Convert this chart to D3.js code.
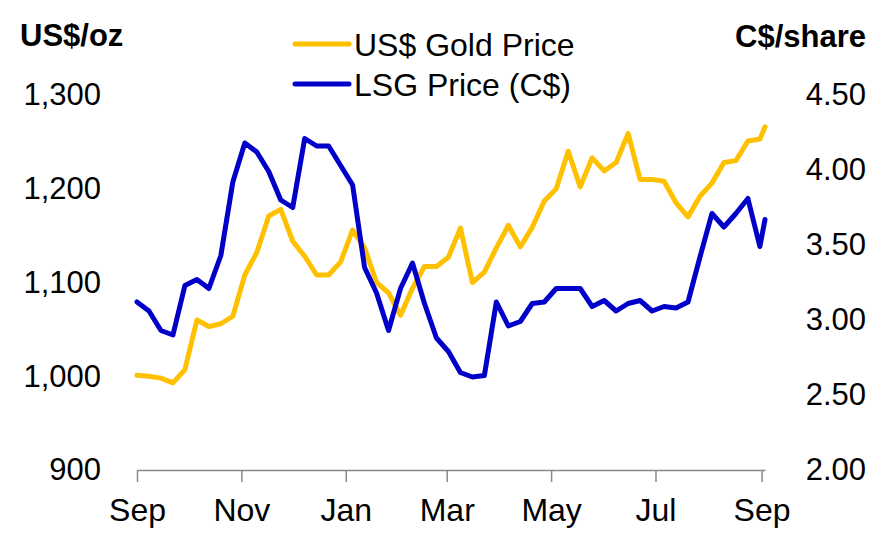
<!DOCTYPE html>
<html>
<head>
<meta charset="utf-8">
<script src="https://cdn.jsdelivr.net/npm/d3@7"></script>
<style>
  body { margin: 0; background: #fff; }
  svg text { font-family: "Liberation Sans", Arial, sans-serif; fill: #000; }
</style>
</head>
<body>
<svg id="chart" width="871" height="539"></svg>
<script>

// weekly closes, Sep 2009 - Sep 2010
var dates = ["2009-09-01","2009-09-08","2009-09-15","2009-09-22","2009-09-29",
  "2009-10-06","2009-10-13","2009-10-20","2009-10-27","2009-11-03","2009-11-10",
  "2009-11-17","2009-11-24","2009-12-01","2009-12-08","2009-12-15","2009-12-22",
  "2009-12-29","2010-01-05","2010-01-12","2010-01-19","2010-01-26","2010-02-02",
  "2010-02-09","2010-02-16","2010-02-23","2010-03-02","2010-03-09","2010-03-16",
  "2010-03-23","2010-03-30","2010-04-06","2010-04-13","2010-04-20","2010-04-27",
  "2010-05-04","2010-05-11","2010-05-18","2010-05-25","2010-06-01","2010-06-08",
  "2010-06-15","2010-06-22","2010-06-29","2010-07-06","2010-07-13","2010-07-20",
  "2010-07-27","2010-08-03","2010-08-10","2010-08-17","2010-08-24","2010-08-31",
  "2010-09-03"];

var goldPrice = [1001, 1000, 998, 993, 1007, 1060, 1053, 1056, 1064, 1108,
  1132, 1171, 1178, 1144, 1128, 1108, 1108, 1122, 1156, 1137,
  1100, 1089, 1065, 1094, 1117, 1117, 1127, 1158, 1100, 1111,
  1137, 1161, 1138, 1159, 1187, 1200, 1240, 1202, 1233, 1219,
  1228, 1259, 1210, 1210, 1208, 1185, 1170, 1192, 1206, 1228,
  1230, 1251, 1253, 1266];

var lsgPrice = [3.12, 3.06, 2.93, 2.90, 3.23, 3.27, 3.21, 3.43, 3.92, 4.18,
  4.12, 3.99, 3.80, 3.75, 4.21, 4.16, 4.16, 4.03, 3.90, 3.35,
  3.18, 2.93, 3.21, 3.38, 3.11, 2.88, 2.79, 2.65, 2.62, 2.63,
  3.12, 2.96, 2.99, 3.11, 3.12, 3.21, 3.21, 3.21, 3.09, 3.13,
  3.06, 3.11, 3.13, 3.06, 3.09, 3.08, 3.12, 3.42, 3.71, 3.62,
  3.71, 3.81, 3.49, 3.67];

var leftTicks = [900, 1000, 1100, 1200, 1300];
var rightTicks = [2.00, 2.50, 3.00, 3.50, 4.00, 4.50];
var monthTicks = ["2009-09-01","2009-11-01","2010-01-01","2010-03-01",
  "2010-05-01","2010-07-01","2010-09-01"];

var seriesNames = ["US$ Gold Price", "LSG Price (C$)"];
var seriesColors = ["#FFC000", "#0000C8"];

var parse = d3.timeParse("%Y-%m-%d");

var svg = d3.select("#chart");

var x = d3.scaleTime()
  .domain([parse(dates[0]), parse(dates[dates.length - 1])])
  .range([137, 765]);

var yLeft = d3.scaleLinear().domain([900, 1300]).range([470, 95]);
var yRight = d3.scaleLinear().domain([2, 4.5]).range([470, 95]);

// x axis: grey baseline with downward ticks every two months
var xAxis = d3.axisBottom(x)
  .tickValues(monthTicks.map(parse))
  .tickSize(12)
  .tickSizeOuter(0)
  .tickPadding(16)
  .tickFormat(d3.timeFormat("%b"));

var gx = svg.append("g")
  .attr("transform", "translate(0,470)")
  .call(xAxis);
gx.select(".domain").attr("stroke", "#898989").attr("stroke-width", 1.5);
gx.selectAll(".tick line").attr("stroke", "#898989").attr("stroke-width", 1.5);
gx.selectAll(".tick text").attr("font-size", 32).attr("dy", "0.71em");

// y axes: labels only
var gl = svg.append("g")
  .attr("transform", "translate(101,0)")
  .call(d3.axisLeft(yLeft).tickValues(leftTicks).tickSize(0).tickPadding(0)
    .tickFormat(d3.format(",")));
gl.select(".domain").remove();
gl.selectAll(".tick text").attr("font-size", 31);

var gr = svg.append("g")
  .attr("transform", "translate(866,0)")
  .call(d3.axisLeft(yRight).tickValues(rightTicks).tickSize(0).tickPadding(0)
    .tickFormat(d3.format(".2f")));
gr.select(".domain").remove();
gr.selectAll(".tick text").attr("font-size", 31);

svg.selectAll(".tick text").attr("fill", "#000").attr("font-family", "Liberation Sans, Arial, sans-serif");

// unit titles
svg.append("text").attr("x", 20).attr("y", 46)
  .attr("font-size", 31).attr("font-weight", "bold").text("US$/oz");
svg.append("text").attr("x", 866).attr("y", 47).attr("text-anchor", "end")
  .attr("font-size", 31).attr("font-weight", "bold").text("C$/share");

// lines
var goldLine = d3.line()
  .x(function(d, i) { return x(parse(dates[i])); })
  .y(function(d) { return yLeft(d); });

var lsgLine = d3.line()
  .x(function(d, i) { return x(parse(dates[i])); })
  .y(function(d) { return yRight(d); });

svg.append("path")
  .datum(goldPrice)
  .attr("d", goldLine)
  .attr("fill", "none")
  .attr("stroke", seriesColors[0])
  .attr("stroke-width", 5)
  .attr("stroke-linejoin", "round")
  .attr("stroke-linecap", "round");

svg.append("path")
  .datum(lsgPrice)
  .attr("d", lsgLine)
  .attr("fill", "none")
  .attr("stroke", seriesColors[1])
  .attr("stroke-width", 5)
  .attr("stroke-linejoin", "round")
  .attr("stroke-linecap", "round");

// legend
var legend = svg.append("g").attr("transform", "translate(295,0)");
var legendRows = legend.selectAll("g").data(seriesNames).enter().append("g")
  .attr("transform", function(d, i) { return "translate(0," + (44 + i * 40) + ")"; });

legendRows.append("line")
  .attr("x1", 0).attr("x2", 54)
  .attr("stroke", function(d, i) { return seriesColors[i]; })
  .attr("stroke-width", 5)
  .attr("stroke-linecap", "round");

legendRows.append("text")
  .attr("x", 59).attr("y", 12)
  .attr("font-size", 32)
  .text(function(d) { return d; });

</script>
</body>
</html>
